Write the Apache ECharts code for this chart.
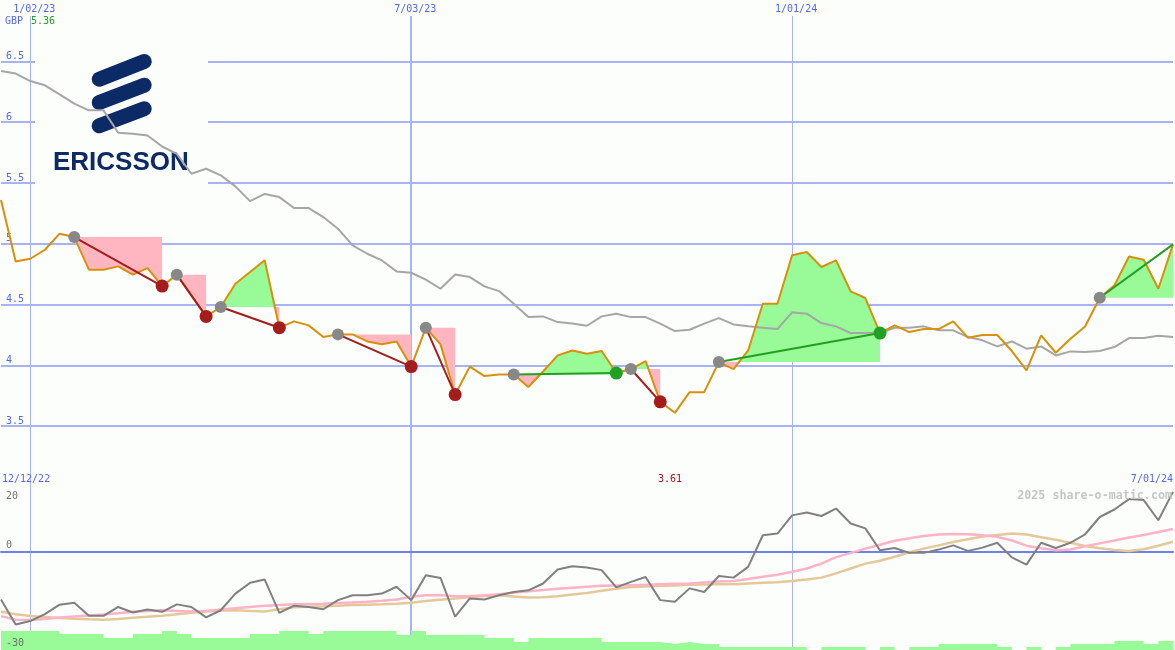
<!DOCTYPE html>
<html><head><meta charset="utf-8">
<script src="https://cdn.jsdelivr.net/npm/echarts@6/dist/echarts.min.js"></script>
<style>html,body{margin:0;padding:0;background:#fcfefc}#c{width:1175px;height:650px}</style>
</head><body><div id="c"></div>
<script>
// ---------------- DATA ----------------
const dates = ['12/19/22','12/26/22','1/02/23','1/09/23','1/16/23','1/23/23','1/30/23','2/06/23','2/13/23','2/20/23',
 '2/27/23','3/06/23','3/13/23','3/20/23','3/27/23','4/03/23','4/10/23','4/17/23','4/24/23','5/01/23',
 '5/08/23','5/15/23','5/22/23','5/29/23','6/05/23','6/12/23','6/19/23','6/26/23','7/03/23','7/10/23',
 '7/17/23','7/24/23','7/31/23','8/07/23','8/14/23','8/21/23','8/28/23','9/04/23','9/11/23','9/18/23',
 '9/25/23','10/02/23','10/09/23','10/16/23','10/23/23','10/30/23','11/06/23','11/13/23','11/20/23','11/27/23',
 '12/04/23','12/11/23','12/18/23','12/25/23','1/01/24','1/08/24','1/15/24','1/22/24','1/29/24','2/05/24',
 '2/12/24','2/19/24','2/26/24','3/04/24','3/11/24','3/18/24','3/25/24','4/01/24','4/08/24','4/15/24',
 '4/22/24','4/29/24','5/06/24','5/13/24','5/20/24','5/27/24','6/03/24','6/10/24','6/17/24','6/24/24','7/01/24'];

const price = [5.36,4.855,4.877,4.951,5.083,5.055,4.787,4.787,4.814,4.746,
 4.80,4.652,4.746,4.573,4.403,4.48,4.672,4.768,4.864,4.31,
 4.362,4.329,4.233,4.255,4.255,4.197,4.173,4.197,3.99,4.31,
 4.173,3.76,3.99,3.912,3.926,3.926,3.822,3.95,4.082,4.123,
 4.096,4.118,3.937,3.97,4.036,3.70,3.61,3.78,3.78,4.027,
 3.97,4.123,4.507,4.507,4.905,4.932,4.809,4.864,4.608,4.554,
 4.266,4.329,4.274,4.299,4.299,4.362,4.228,4.25,4.25,4.118,
 3.959,4.247,4.104,4.219,4.32,4.556,4.658,4.896,4.869,4.63,4.995];

const movingAvg = [6.42,6.40,6.338,6.303,6.229,6.152,6.097,6.097,5.913,5.905,
 5.89,5.80,5.74,5.576,5.617,5.563,5.472,5.351,5.41,5.384,
 5.294,5.294,5.22,5.124,4.987,4.918,4.863,4.773,4.762,4.705,
 4.63,4.748,4.726,4.65,4.611,4.507,4.397,4.403,4.356,4.345,
 4.326,4.403,4.425,4.397,4.397,4.343,4.282,4.293,4.343,4.389,
 4.337,4.321,4.31,4.299,4.436,4.425,4.348,4.321,4.266,4.266,
 4.266,4.31,4.31,4.321,4.288,4.288,4.233,4.206,4.156,4.197,
 4.137,4.156,4.082,4.115,4.11,4.118,4.151,4.225,4.225,4.244,4.233];

const oscillator = [-14.5,-22.2,-21.1,-19.0,-16.1,-15.5,-19.5,-19.5,-16.8,-18.5,
 -17.6,-18.3,-16.0,-16.8,-20.0,-17.8,-12.7,-9.4,-8.4,-18.6,
 -16.4,-16.8,-17.5,-14.7,-13.2,-13.2,-12.7,-10.6,-14.7,-7.1,
 -7.9,-19.8,-14.2,-14.5,-13.2,-12.2,-11.7,-9.6,-5.3,-4.3,
 -4.7,-5.5,-10.8,-9.1,-7.6,-14.7,-15.2,-11.1,-12.2,-7.3,
 -7.8,-4.5,5.2,5.7,11.3,12.2,11.1,13.4,8.8,7.3,
 0.6,1.3,-0.2,-0.2,0.8,2.1,0.4,1.4,2.9,-1.6,
 -3.8,2.9,1.3,2.9,5.5,10.8,13.1,16.3,16.0,9.8,18.5];

const oscFast = [-19.6,-20.7,-20.8,-20.5,-20.0,-19.7,-19.4,-19.1,-18.7,-18.3,
 -18.0,-17.8,-18.0,-18.2,-18.0,-17.6,-17.2,-16.8,-16.4,-16.2,
 -16.0,-15.9,-15.8,-15.6,-15.4,-15.2,-14.9,-14.5,-13.7,-13.2,
 -13.1,-13.5,-13.5,-13.2,-12.9,-12.4,-12.0,-11.6,-11.2,-10.9,
 -10.6,-10.3,-10.2,-10.1,-10.0,-9.8,-9.7,-9.6,-9.3,-9.0,
 -8.8,-8.2,-7.5,-6.9,-6.0,-5.0,-3.5,-1.5,-0.2,1.1,
 2.3,3.5,4.3,5.0,5.4,5.6,5.5,5.2,4.7,3.6,
 2.0,1.2,0.6,0.8,1.8,2.7,3.6,4.5,5.3,6.2,7.1];

const oscSlow = [-18.3,-19.0,-19.6,-19.9,-20.2,-20.4,-20.6,-20.7,-20.5,-20.1,
 -19.8,-19.5,-19.0,-18.6,-18.2,-17.9,-17.8,-18.0,-18.2,-17.5,
 -16.9,-16.7,-16.6,-16.4,-16.2,-16.1,-16.0,-15.8,-15.5,-15.0,
 -14.6,-14.2,-13.8,-13.4,-13.2,-13.6,-13.9,-13.8,-13.5,-13.0,
 -12.5,-11.8,-11.2,-10.7,-10.5,-10.3,-10.2,-10.0,-9.9,-9.8,
 -9.8,-9.6,-9.4,-9.2,-8.8,-8.4,-7.8,-6.5,-5.0,-3.5,
 -2.6,-1.4,0.0,1.1,2.1,3.1,4.0,4.8,5.3,5.7,
 5.4,4.6,3.8,2.9,1.9,1.2,0.7,0.4,0.9,2.0,3.2];

const volume = [19,19,19,19,16,16,16,12,12,16,
 16,19,16,12,12,12,12,16,16,19,
 19,16,19,19,19,19,19,15,19,15,
 15,15,15,12,12,8,12,12,12,12,
 12,8,8,8,8,6,8,6,6,3,
 3,3,3,3,3,0,3,3,3,0,
 3,0,3,3,6,6,6,6,3,0,
 3,0,3,6,6,6,9,9,6,9,9];

const tradeEntries = [5,12,15,23,29,35,43,49,75];
const tradeExits   = [11,14,19,28,31,42,45,60,80];
const tradeClosed  = [1,1,1,1,1,1,1,1,0];

const priceTicks = [3.5,4,4.5,5,5.5,6,6.5];
const oscTicks = [20,0,-30];
const dateTickLabels = ['1/02/23','7/03/23','1/01/24'];
const currency = 'GBP';
const quote = '5.36';
const rangeStart = '12/12/22';
const brand = 'ERICSSON';
const watermark = '2025 share-o-matic.com';

// ---------------- STYLE ----------------
const BG = '#fcfefc', GRID = '#a7b3f2', LBL = '#5468e8', MONO = '"DejaVu Sans Mono", monospace';
const GREEN_FILL = '#98fb98', PINK_FILL = '#ffb6c1';
const RED = '#a51c1c', GREEN = '#22a022', GREYDOT = '#888888';
const labelIdx = dateTickLabels.map(d => dates.indexOf(d));

const fillData = tradeEntries.map((e, k) => [e, tradeExits[k], price[e]]);
const tradeData = tradeEntries.map((e, k) => [e, price[e], tradeExits[k], price[tradeExits[k]], tradeClosed[k]]);

function renderFill(params, api) {
  const e = api.value(0), x = api.value(1), lvl = api.value(2);
  const Ly = api.coord([e, lvl])[1];
  const pts = [];
  for (let k = e; k <= x; k++) pts.push(api.coord([k, price[k]]));
  const ext = [pts[0]];
  for (let k = 0; k < pts.length - 1; k++) {
    const A = pts[k], B = pts[k + 1];
    if ((A[1] - Ly) * (B[1] - Ly) < 0) {
      const t = (Ly - A[1]) / (B[1] - A[1]);
      ext.push([A[0] + t * (B[0] - A[0]), Ly]);
    }
    ext.push(B);
  }
  const x0 = pts[0][0], xN = pts[pts.length - 1][0];
  const above = [[x0, Ly]].concat(ext.map(p => [p[0], Math.min(p[1], Ly)]), [[xN, Ly]]);
  const below = [[x0, Ly]].concat(ext.map(p => [p[0], Math.max(p[1], Ly)]), [[xN, Ly]]);
  return { type: 'group', children: [
    { type: 'polygon', shape: { points: above }, style: { fill: GREEN_FILL } },
    { type: 'polygon', shape: { points: below }, style: { fill: PINK_FILL } }
  ]};
}

function renderTrade(params, api) {
  const p1 = api.coord([api.value(0), api.value(1)]);
  const p2 = api.coord([api.value(2), api.value(3)]);
  const win = api.value(3) >= api.value(1);
  const col = win ? GREEN : RED;
  const ch = [
    { type: 'line', shape: { x1: p1[0], y1: p1[1], x2: p2[0], y2: p2[1] }, style: { stroke: col, lineWidth: 2 } },
    { type: 'circle', shape: { cx: p1[0], cy: p1[1], r: 6 }, style: { fill: GREYDOT } }
  ];
  if (api.value(4)) ch.push({ type: 'circle', shape: { cx: p2[0], cy: p2[1], r: 6.5 }, style: { fill: col } });
  return { type: 'group', children: ch };
}

const chart = echarts.init(document.getElementById('c'));
const option = {
  backgroundColor: BG,
  animation: false,
  grid: [
    { left: 1, right: 2, top: 16, height: 471 },
    { left: 1, right: 2, top: 487, height: 163 }
  ],
  xAxis: [
    { type: 'category', gridIndex: 0, data: dates, boundaryGap: false, position: 'top',
      axisLine: { show: false }, axisTick: { show: false },
      axisLabel: { interval: (i) => labelIdx.includes(i), color: LBL, fontFamily: MONO, fontSize: 10,
        margin: 2, align: 'center', padding: [0, 0, 0, 8] },
      splitLine: { show: true, interval: (i) => i === labelIdx[0] || i === labelIdx[2], lineStyle: { color: GRID, width: 1 } } },
    { type: 'category', gridIndex: 1, data: dates, boundaryGap: false, position: 'top',
      axisLine: { show: true, lineStyle: { color: '#6f80e8', width: 2 } }, axisTick: { show: false }, axisLabel: { show: false },
      splitLine: { show: true, interval: (i) => i === labelIdx[0] || i === labelIdx[2], lineStyle: { color: GRID, width: 1 } } },
    { type: 'category', gridIndex: 0, data: dates, boundaryGap: false, position: 'bottom',
      axisLine: { show: false }, axisTick: { show: false }, axisLabel: { show: false },
      splitLine: { show: true, interval: (i) => i === labelIdx[1], lineStyle: { color: GRID, width: 2 } } },
    { type: 'category', gridIndex: 1, data: dates, boundaryGap: false, position: 'bottom',
      axisLine: { show: false }, axisTick: { show: false }, axisLabel: { show: false },
      splitLine: { show: true, interval: (i) => i === labelIdx[1], lineStyle: { color: GRID, width: 2 } } }
  ],
  yAxis: [
    { type: 'value', gridIndex: 0, min: 3, max: 6.873, interval: 0.5,
      axisLine: { show: false }, axisTick: { show: false },
      axisLabel: { inside: true, margin: 5, align: 'left', verticalAlign: 'bottom', color: LBL, fontFamily: MONO, fontSize: 10,
        showMinLabel: false, showMaxLabel: false,
        formatter: (v) => priceTicks.some(t => Math.abs(t - v) < 1e-6) ? String(v) : '' },
      splitLine: { show: true, showMinLine: false, showMaxLine: false, lineStyle: { color: GRID, width: 2 } } },
    { type: 'value', gridIndex: 1, min: -30, max: 20, interval: 30,
      axisLine: { show: false }, axisTick: { show: false }, axisLabel: { show: false },
      splitLine: { show: true, showMinLine: false, showMaxLine: false, lineStyle: { color: GRID, width: 2 } } },
    { type: 'value', gridIndex: 1, min: 0, max: 163, show: false, splitLine: { show: false } }
  ],
  series: [
    { name: 'tradeFill', type: 'custom', xAxisIndex: 0, yAxisIndex: 0, z: 2, silent: true,
      renderItem: renderFill, encode: { x: [0, 1], y: 2 }, data: fillData },
    { name: 'movingAvg', type: 'line', xAxisIndex: 0, yAxisIndex: 0, z: 3, data: movingAvg, symbol: 'none',
      lineStyle: { color: '#a6a6a6', width: 2 } },
    { name: 'price', type: 'line', xAxisIndex: 0, yAxisIndex: 0, z: 4, data: price, symbol: 'none',
      lineStyle: { color: '#d8900a', width: 2 } },
    { name: 'trades', type: 'custom', xAxisIndex: 0, yAxisIndex: 0, z: 5, silent: true,
      renderItem: renderTrade, encode: { x: [0, 2], y: [1, 3] }, data: tradeData },
    { name: 'volume', type: 'line', xAxisIndex: 1, yAxisIndex: 2, z: 2, data: volume, step: 'end', symbol: 'none',
      lineStyle: { width: 0 }, areaStyle: { color: GREEN_FILL, opacity: 1 } },
    { name: 'oscSlow', type: 'line', xAxisIndex: 1, yAxisIndex: 1, z: 3, data: oscSlow, symbol: 'none',
      lineStyle: { color: '#e3c999', width: 2.5 } },
    { name: 'oscFast', type: 'line', xAxisIndex: 1, yAxisIndex: 1, z: 3, data: oscFast, symbol: 'none',
      lineStyle: { color: '#ffb3c6', width: 2.5 } },
    { name: 'oscillator', type: 'line', xAxisIndex: 1, yAxisIndex: 1, z: 4, data: oscillator, symbol: 'none',
      lineStyle: { color: '#808080', width: 2 } }
  ]
};
chart.setOption(option);

// ---------------- annotations placed through the axes ----------------
const yOsc = v => chart.convertToPixel({ yAxisIndex: 1 }, v);
const xOf = i => chart.convertToPixel({ xAxisIndex: 0 }, i);
const minVal = Math.min(...price);
const minIdx = price.indexOf(minVal);
const rowY = yOsc(oscTicks[0]) - 8;
const txt = (text, x, y, fill, align, va, font, z) => ({ type: 'text', z: z || 10, silent: true,
  style: { text, x, y, fill, textAlign: align, textVerticalAlign: va, align: align, verticalAlign: va, font } });
const F10 = '10px ' + MONO;

const graphics = [
  { type: 'rect', z: 1, silent: true, shape: { x: 35, y: 42, width: 173, height: 155 }, style: { fill: BG } },
  { type: 'line', z: 1, silent: true, shape: { x1: 99.2, y1: 79.2, x2: 144.2, y2: 61.5 }, style: { stroke: '#0c2a66', lineWidth: 15, lineCap: 'round' } },
  { type: 'line', z: 1, silent: true, shape: { x1: 99.2, y1: 102.5, x2: 144.2, y2: 85.2 }, style: { stroke: '#0c2a66', lineWidth: 15, lineCap: 'round' } },
  { type: 'line', z: 1, silent: true, shape: { x1: 99.2, y1: 125.8, x2: 144.2, y2: 108.7 }, style: { stroke: '#0c2a66', lineWidth: 15, lineCap: 'round' } },
  txt(brand, 53, 163, '#0c2a66', 'left', 'middle', 'bold 26px "Liberation Sans", Arial, sans-serif', 1),
  txt(currency, 5, 21, LBL, 'left', 'middle', F10),
  txt(quote, 31, 21, GREEN, 'left', 'middle', F10),
  txt(rangeStart, 2, rowY, LBL, 'left', 'middle', F10),
  txt(dates[dates.length - 1], 1173, rowY, LBL, 'right', 'middle', F10),
  txt(minVal.toFixed(2), xOf(minIdx) - 17, rowY, '#a01414', 'left', 'middle', F10),
  txt(watermark, 1172, yOsc(oscTicks[0]) + 9, '#c6c6c6', 'right', 'middle', 'bold 11.7px ' + MONO),
  txt(String(oscTicks[0]), 6, yOsc(oscTicks[0]) + 9, '#707070', 'left', 'middle', F10),
  txt(String(oscTicks[1]), 6, yOsc(oscTicks[1]) - 7, '#707070', 'left', 'middle', F10),
  txt(String(oscTicks[2]), 6, yOsc(oscTicks[2]) - 7, '#707070', 'left', 'middle', F10)
];
chart.setOption({ graphic: { elements: graphics } });
</script>
</body></html>
